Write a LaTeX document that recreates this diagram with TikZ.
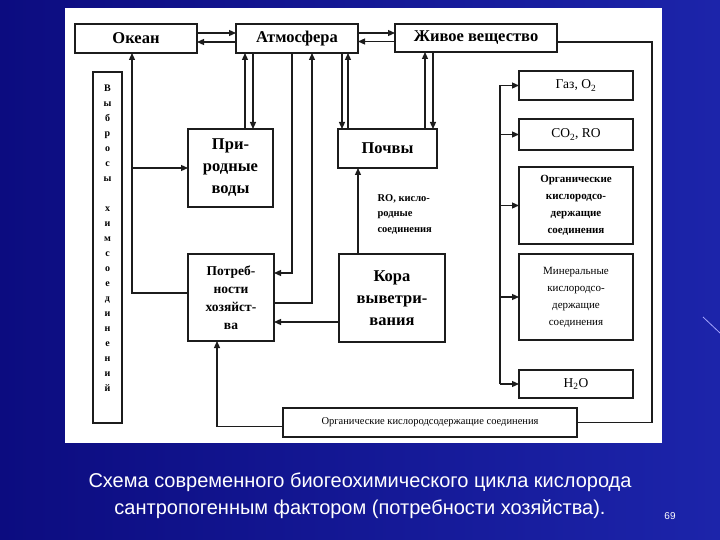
\documentclass[tikz,border=0pt]{standalone}
\usepackage{fontspec}
\setmainfont{Liberation Serif}
\setsansfont{Liberation Sans}
\usetikzlibrary{arrows.meta}

\definecolor{slideblue}{RGB}{12,12,128}
\definecolor{slidelight}{RGB}{28,36,170}
\definecolor{inkline}{RGB}{28,28,28}

\begin{document}
\begin{tikzpicture}[x=1pt, y=-1pt,
    box/.style={draw=inkline, line width=1.4pt, fill=white, inner sep=2pt, outer sep=0pt, align=center},
    arr/.style={draw=inkline, line width=1.2pt, -{Triangle[length=7pt, width=6pt]}},
    link/.style={draw=inkline, line width=1.2pt},
    bigtext/.style={font=\bfseries\fontsize{16.5}{22}\selectfont},
    midtext/.style={font=\bfseries\fontsize{13.5}{18}\selectfont},
    smalltext/.style={font=\fontsize{11}{17}\selectfont},
    smallbold/.style={font=\bfseries\fontsize{11}{17}\selectfont}]
        % Slide background and white panel
        \shade[left color=slideblue, right color=slidelight] (0,0) rectangle (720,540);
        \useasboundingbox (0,0) rectangle (720,540);
        \fill[white] (65,8) rectangle (662,443);
        \draw[white!65!blue, line width=0.8pt] (703,317) -- (720,333);

        % Top row
        \node[box, bigtext, minimum width=122pt, minimum height=29pt] (ocean) at (136,38.5) {Океан};
        \node[box, bigtext, minimum width=122pt, minimum height=29pt] (atmo) at (297,38.5) {Атмосфера};
        \node[box, bigtext, minimum width=162pt, minimum height=28pt] (live) at (476,38) {Живое вещество};

        % Emissions column
        \node[box, minimum width=29pt, minimum height=351pt] (emis) at (107.5,247.5) {};
        \node[font=\bfseries\fontsize{10}{15}\selectfont, align=center, inner sep=0pt] (emistext) at (107.5,238)
            {В\\ы\\б\\р\\о\\с\\ы\\[15pt]х\\и\\м\\с\\о\\е\\д\\и\\н\\е\\н\\и\\й};

        % Middle boxes
        \node[box, bigtext, minimum width=85pt, minimum height=78pt] (water) at (230.5,168) {При-\\родные\\воды};
        \node[box, midtext, minimum width=86pt, minimum height=87pt] (need) at (231,297.5) {Потреб-\\ности\\хозяйст-\\ва};
        \node[box, bigtext, minimum width=99pt, minimum height=39pt] (soil) at (387.5,148.5) {Почвы};
        \node[box, bigtext, minimum width=106pt, minimum height=88pt] (crust) at (392,298) {Кора\\выветри-\\вания};
        \node[font=\bfseries\fontsize{10.5}{15.5}\selectfont, align=left, anchor=north west] (rolabel) at (374,191)
            {RO, кисло-\\родные\\соединения};

        % Right column
        \node[box, font=\fontsize{13.5}{16}\selectfont, minimum width=114pt, minimum height=29pt] (gas) at (576,85.5) {Газ, O\textsubscript{2}};
        \node[box, font=\fontsize{13.5}{16}\selectfont, minimum width=114pt, minimum height=31pt] (co2) at (576,134.5) {CO\textsubscript{2}, RO};
        \node[box, smallbold, minimum width=114pt, minimum height=77pt] (org) at (576,205.5) {Органические\\кислородсо-\\держащие\\соединения};
        \node[box, smalltext, minimum width=114pt, minimum height=86pt] (min) at (576,297) {Минеральные\\кислородсо-\\держащие\\соединения};
        \node[box, font=\fontsize{13.5}{16}\selectfont, minimum width=114pt, minimum height=28pt] (h2o) at (576,384) {H\textsubscript{2}O};
        \node[box, font=\fontsize{10.5}{12}\selectfont, minimum width=294pt, minimum height=29pt] (orgbot) at (430,422.5) {Органические кислородсодержащие соединения};

        % Ocean, atmosphere, living matter
        \draw[arr] ([yshift=5.5pt]ocean.east) -- ([yshift=5.5pt]ocean.east -| atmo.west);
        \draw[arr] ([yshift=-3.5pt]atmo.west) -- ([yshift=-3.5pt]atmo.west -| ocean.east);
        \draw[arr] ([yshift=5.5pt]atmo.east) -- ([yshift=5.5pt]atmo.east -| live.west);
        \draw[arr] ([yshift=-3.5pt]live.west) -- ([yshift=-3.5pt]live.west -| atmo.east);

        % Atmosphere and natural waters
        \draw[arr] ([xshift=14.5pt]water.north) -- ([xshift=14.5pt]water.north |- atmo.south);
        \draw[arr] ([xshift=22.5pt]water.north |- atmo.south) -- ([xshift=22.5pt]water.north);

        % Atmosphere and household needs
        \draw[arr] ([xshift=-5pt]atmo.south) |- ([yshift=24.5pt]need.east);
        \draw[arr] ([yshift=-5.5pt]need.east) -| ([xshift=15pt]atmo.south);

        % Soil, atmosphere, living matter
        \draw[arr] ([xshift=-45.5pt]soil.north |- atmo.south) -- ([xshift=-45.5pt]soil.north);
        \draw[arr] ([xshift=-39.5pt]soil.north) -- ([xshift=-39.5pt]soil.north |- atmo.south);
        \draw[arr] ([xshift=37.5pt]soil.north) -- ([xshift=37.5pt]soil.north |- live.south);
        \draw[arr] ([xshift=45.5pt]soil.north |- live.south) -- ([xshift=45.5pt]soil.north);

        % Weathering crust
        \draw[arr] ([xshift=-34pt]crust.north) -- ([xshift=-34pt]crust.north |- soil.south);
        \draw[arr] ([yshift=-24pt]crust.west) -- ([yshift=-24pt]crust.west -| need.east);

        % Household needs to ocean and waters
        \coordinate (split) at (132,168);
        \draw[arr] ([yshift=4.5pt]need.west) -| ([xshift=-4pt]ocean.south);
        \draw[arr] (split) -- (water.west);

        % Loop from living matter
        \coordinate (loopcorner) at (652,422.5);
        \draw[link] ([yshift=-4pt]live.east) -| (loopcorner) -- (orgbot.east);
        \draw[arr] ([yshift=-4pt]orgbot.west) -| ([xshift=-14pt]need.south);

        % Rail to the right column
        \coordinate (rail) at (500,0);
        \draw[link] (gas.west -| rail) -- (h2o.west -| rail);
        \foreach \b in {gas,co2,org,min,h2o}
            \draw[arr] (\b.west -| rail) -- (\b.west);

        % Caption
        \node[font=\sffamily\fontsize{20}{27}\selectfont, text=white, align=center] (caption) at (360,496)
            {Схема современного биогеохимического цикла кислорода\\сантропогенным фактором (потребности хозяйства).};
        \node[font=\sffamily\fontsize{10}{12}\selectfont, text=white] (pagenum) at (670,516) {69};
\end{tikzpicture}
\end{document}
